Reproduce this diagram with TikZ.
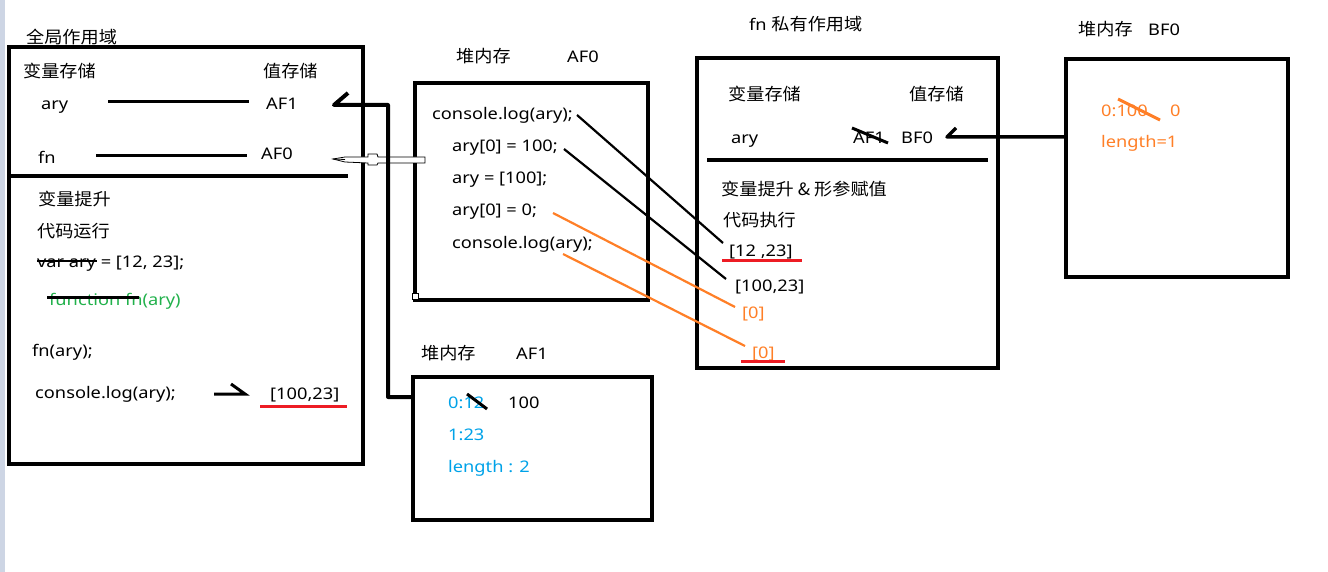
\documentclass[tikz,border=0pt]{standalone}
\usepackage{fontspec}
\setmainfont{Noto Sans}[FakeStretch=1.14]
\newfontfamily\cjk{Noto Sans CJK SC}[Scale=1.06, FakeStretch=1.07]
\definecolor{porange}{HTML}{FF7F27}
\definecolor{pred}{HTML}{ED1C24}
\definecolor{pblue}{HTML}{00A2E8}
\definecolor{pgreen}{HTML}{22B14C}
\definecolor{stripc}{HTML}{CDD5E4}
\tikzset{
  txt/.style={anchor=west, inner sep=0pt, text height=13pt, text depth=1pt, font=\fontsize{16}{19}\selectfont},
  frame/.style={draw, line width=#1, anchor=north west, inner sep=0pt, outer sep=0pt},
  thickline/.style={line width=4pt},
  midline/.style={line width=3pt},
  link/.style={line width=2.2pt},
  uline/.style={line width=3pt, pred},
}
\begin{document}
\begin{tikzpicture}[x=1pt,y=-1pt]
\useasboundingbox (0,0) rectangle (1328,572);
\fill[stripc] (0,0) rectangle (5,572);

% ---------- global scope ----------
\node[txt] (gtitle) at (26,38) {\cjk 全局作用域};
\node[frame=4pt, minimum width=354pt, minimum height=417pt] (gbox) at (9,47) {};
\node[txt] (gvar) at (23,72) {\cjk 变量存储};
\node[txt] (gval) at (263,72) {\cjk 值存储};
\node[txt] (gary) at (41,104) {ary};
\node[txt] (gaf1) at (266,104) {AF1};
\node[txt] (gfn) at (38,158) {fn};
\node[txt] (gaf0) at (261,154) {AF0};
\draw[midline] (108,102) -- (249,102);
\draw[midline] (96,156) -- (247,156);
\draw[thickline] (10,176) -- (348,176);
\node[txt] (ghoist) at (38,200) {\cjk 变量提升};
\node[txt] (grun) at (37,231) {\cjk 代码运行};
\node[txt] (gvarary) at (37,262) {var ary = [12, 23];};
\draw[line width=1.5pt] (37,261) -- (97,261);
\node[txt, text=pgreen] (gfunc) at (49,299) {function fn(ary)};
\draw[midline] (47,297) -- (139,297);
\node[txt] (gcall) at (32,350) {fn(ary);};
\node[txt] (glog) at (35,392) {console.log(ary);};
\draw[midline] (214,394) -- (245,394) -- (231,384);
\node[txt] (gres) at (270,393) {[100,23]};
\draw[uline] (260,406) -- (347,406);

% ---------- heap AF0 ----------
\node[txt] (h0title) at (456,57) {\cjk 堆内存};
\node[txt] (h0addr) at (567,57) {AF0};
\node[frame=4pt, minimum width=233pt, minimum height=217pt] (h0box) at (415,83) {};
\node[txt] (c1) at (432,114) {console.log(ary);};
\node[txt] (c2) at (452,146) {ary[0] = 100;};
\node[txt] (c3) at (452,178) {ary = [100];};
\node[txt] (c4) at (452,210) {ary[0] = 0;};
\node[txt] (c5) at (452,242) {console.log(ary);};
\draw[fill=white, line width=0.8pt] (412,293) rectangle (418,299);

% hollow arrow AF0 -> fn
\draw[fill=white, line width=0.8pt] (333,159) -- (345,157) -- (368,157) -- (368,154) -- (377,154) -- (378,157) -- (425,157)
  -- (425,163) -- (378,163) -- (377,165) -- (368,165) -- (368,163) -- (345,162) -- cycle;
\draw[line width=0.8pt] (333,159) -- (345,159.5);

% ---------- heap AF1 ----------
\node[txt] (h1title) at (421,353) {\cjk 堆内存};
\node[txt] (h1addr) at (516,353) {AF1};
\node[frame=4pt, minimum width=239pt, minimum height=143pt] (h1box) at (413,377) {};
\node[txt, text=pblue] (e0) at (448,402) {0:12};
\draw[midline] (467,394) -- (487,409);
\node[txt] (e0new) at (508,402) {100};
\node[txt, text=pblue] (e1) at (448,434) {1:23};
\node[txt, text=pblue] (elen) at (448,466) {length : 2};

% connector ary -> AF1 heap
\coordinate (hookA) at (348,93);
\coordinate (hookB) at (334,105);
\draw[thickline, line join=round] (hookA) -- (hookB) -- (388,105) |- ([yshift=-20pt]h1box.north west);

% ---------- fn private scope ----------
\node[txt] (ftitle) at (749,25) {fn {\cjk 私有作用域}};
\node[frame=3.5pt, minimum width=301pt, minimum height=310pt] (fbox) at (697,58) {};
\node[txt] (fvar) at (728,95) {\cjk 变量存储};
\node[txt] (fval) at (909,95) {\cjk 值存储};
\node[txt] (fary) at (731,138) {ary};
\node[txt] (faf1) at (853,138) {AF1};
\draw[midline] (852,128) -- (888,143);
\node[txt] (fbf0) at (901,138) {BF0};
\draw[line width=3.5pt] (707,160) -- (988,160);
\node[txt] (fhoist) at (721,190) {\cjk 变量提升 \& 形参赋值};
\node[txt] (frun) at (723,221) {\cjk 代码执行};
\node[txt] (r1) at (729,250) {[12 ,23]};
\draw[uline] (722,260) -- (802,260);
\node[txt] (r2) at (735,285) {[100,23]};
\node[txt, text=porange] (r3) at (742,312) {[0]};
\node[txt, text=porange] (r4) at (752,352) {[0]};
\draw[uline] (741,361) -- (785,361);

% links from code to results
\draw[link] (577,115) -- (723,243);
\draw[link] (564,149) -- (726,279);
\draw[link, porange] (553,213) -- (735,307);
\draw[link, porange] (563,254) -- (745,346);

% ---------- heap BF0 ----------
\node[txt] (h2title) at (1078,30) {\cjk 堆内存};
\node[txt] (h2addr) at (1148,30) {BF0};
\node[frame=3.5pt, minimum width=222pt, minimum height=218pt] (h2box) at (1066,59) {};
\node[txt, text=porange] (b0) at (1101,111) {0:100};
\draw[midline, porange] (1118,99) -- (1160,120);
\node[txt, text=porange] (b0new) at (1170,111) {0};
\node[txt, text=porange] (blen) at (1101,142) {length=1};
\coordinate (bf0in) at ([yshift=-78pt]h2box.north west);
\draw[line width=3.5pt, line join=round] (bf0in) -- (947,137) -- (956,128);
\end{tikzpicture}
\end{document}
